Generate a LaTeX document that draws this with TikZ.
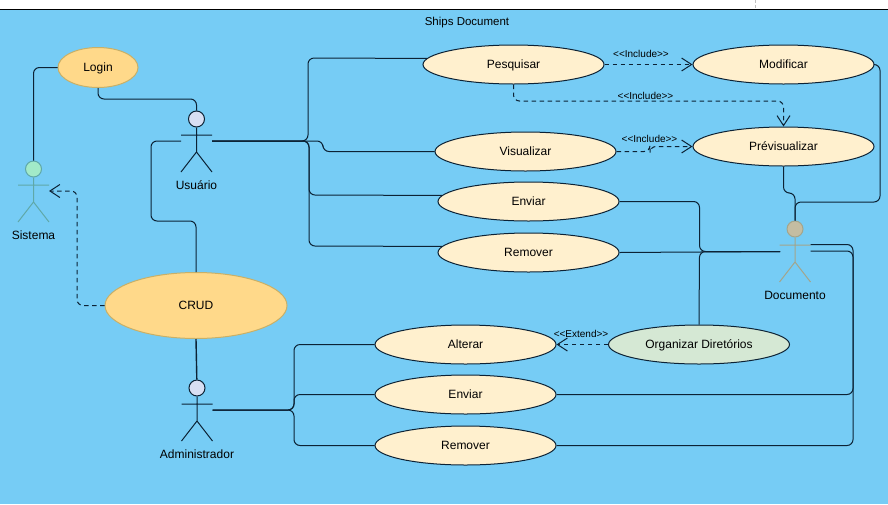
\documentclass[tikz,border=0pt]{standalone}
\usepackage{fontspec}
\setmainfont{Liberation Sans}
\usetikzlibrary{shapes.geometric}
\usetikzlibrary{arrows.meta}

\definecolor{skyback}{HTML}{76CCF5}
\definecolor{lineblue}{HTML}{0C2235}
\definecolor{casefill}{HTML}{FFF0CE}
\definecolor{goldfill}{HTML}{FFD98A}
\definecolor{goldline}{HTML}{C8B068}
\definecolor{greenfill}{HTML}{D5E8D4}
\definecolor{headblue}{HTML}{D8DFF3}
\definecolor{headmint}{HTML}{A2EAC8}
\definecolor{linemint}{HTML}{5FA8A8}
\definecolor{headsand}{HTML}{C4BDA2}
\definecolor{linesand}{HTML}{A3A58C}

\tikzset{
	usecase/.style={draw=lineblue, ellipse, fill=casefill, line width=1pt, minimum width=181pt, minimum height=39pt, inner sep=0pt, text height=8.6pt, text depth=0pt, font=\fontsize{12}{12}\selectfont},
	goldcase/.style={usecase, draw=goldline, fill=goldfill},
	assoc/.style={draw=lineblue, line width=1pt, rounded corners=6pt},
	dep/.style={assoc, dash pattern=on 4.5pt off 3.5pt, -{Straight Barb[length=10pt,width=13pt]}},
	stereo/.style={inner sep=0pt, font=\fontsize{10}{10}\selectfont},
	pics/actor/.style n args={3}{code={
		\node[circle, draw=#2, fill=#1, line width=1pt, minimum size=16pt, inner sep=0pt] (-head) at (0,0) {};
		\draw[#2, line width=1pt] (-head) -- (0,33) (-15.5,16) -- (15.5,16) (-15.5,53) -- (0,33) -- (15.5,53);
		\coordinate (-left) at (-15.5,22);
		\coordinate (-right) at (15.5,22);
		\node[inner sep=0pt, font=\fontsize{12}{12}\selectfont] (-label) at (0,66) {#3};
	}}
}

\begin{document}
\begin{tikzpicture}[x=1pt, y=-1pt]
	\useasboundingbox (0,0) rectangle (888,504);

	\fill[white] (0,0) rectangle (888,504);
	\fill[skyback] (0,9.5) rectangle (888,504);
	\draw[black, line width=0.8pt] (0,9.5) -- (888,9.5);
	\draw[gray!50, line width=0.7pt, dash pattern=on 3pt off 1.5pt] (755,0) -- (755,9);

	\node[inner sep=0pt, font=\fontsize{11.5}{12}\selectfont] (title) at (467,23) {Ships Document};

	% use cases
	\node[goldcase, minimum width=80pt, minimum height=40pt] (login) at (98,67.5) {Login};
	\node[goldcase, minimum width=182pt, minimum height=66pt] (crud) at (196,305.5) {CRUD};

	\node[usecase] (pesquisar) at (513.5,64.5) {Pesquisar};
	\node[usecase] (modificar) at (783.5,64.5) {Modificar};
	\node[usecase] (previsualizar) at (783.5,146.5) {Prévisualizar};
	\node[usecase] (visualizar) at (525.5,151.5) {Visualizar};
	\node[usecase] (enviar) at (528.5,201.5) {Enviar};
	\node[usecase] (remover) at (528.5,252.5) {Remover};
	\node[usecase] (alterar) at (465.5,344.5) {Alterar};
	\node[usecase] (enviarb) at (465.5,394.5) {Enviar};
	\node[usecase] (removerb) at (465.5,445.5) {Remover};
	\node[usecase, fill=greenfill] (organizar) at (699,344.5) {Organizar Diretórios};

	% actors
	\pic (usuario) at (196.5,119) {actor={headblue}{lineblue}{Usuário}};
	\pic (sistema) at (33.5,169) {actor={headmint}{linemint}{Sistema}};
	\pic (admin) at (197,388) {actor={headblue}{lineblue}{Administrador}};
	\pic (documento) at (795,229) {actor={headsand}{linesand}{Documento}};

	\coordinate (sistemadep) at (49,191);
	\coordinate (docjoin) at (780,251.5);

	% associations
	\draw[assoc] (login.west) -- (33.5,67.5) -- (sistema-head);
	\draw[assoc] (login.south) -- (98,99) -- (196.5,99) -- (usuario-head);

	\draw[assoc] (usuario-right) -- (308,141) -- (308,58) -- (pesquisar.176);
	\draw[assoc] (usuario-right) -- (323,141) -- (323,151.5) -- (visualizar.west);
	\draw[assoc] (usuario-right) -- (309,141) -- (309,195) -- (enviar.176);
	\draw[assoc] (usuario-right) -- (309,141) -- (309,246) -- (remover.176);
	\draw[assoc] (usuario-left) -- (151,141) -- (151,221) -- (196,221) -- (crud.north);

	\draw[assoc, line width=1.4pt] (crud.south) -- (admin-head);
	\draw[assoc] (admin-right) -- (294,410) -- (294,344.5) -- (alterar.west);
	\draw[assoc] (admin-right) -- (294,410) -- (294,394.5) -- (enviarb.west);
	\draw[assoc] (admin-right) -- (294,410) -- (294,445.5) -- (removerb.west);

	\draw[assoc] (modificar.east) -- (880,64.5) -- (880,202) -- (795,202) -- (documento-head);
	\draw[assoc] (previsualizar.south) -- (783.5,193) -- (795,193) -- (documento-head);
	\draw[assoc] (enviar.east) -- (699.5,201.5) -- (699.5,251.5) -- (docjoin);
	\draw[assoc] (remover.east) -- (docjoin);
	\draw[assoc] (organizar.north) -- (699.5,251.5) -- (docjoin);
	\draw[assoc] (documento-right) ++(0,-6.5) -- (853,244.5) -- (853,394.5) -- (enviarb.east);
	\draw[assoc] (documento-right) -- (853,251) -- (853,445.5) -- (removerb.east);

	% includes and extends
	\draw[dep] (crud.west) -- (77,305.5) -- (77,191) -- (sistemadep);
	\draw[dep] (pesquisar.east) -- (modificar.west);
	\draw[dep] (pesquisar.south) -- (513.5,101) -- (783.5,101) -- (previsualizar.north);
	\draw[dep] (visualizar.east) -- (650,151.5) -- (650,146.5) -- (previsualizar.west);
	\draw[dep] (organizar.west) -- (alterar.east);

	\node[stereo] (incmod) at (641,54) {<{}<Include>{}>};
	\node[stereo] (incprev) at (645.5,96) {<{}<Include>{}>};
	\node[stereo] (incvis) at (649.5,139) {<{}<Include>{}>};
	\node[stereo] (extalt) at (581,334) {<{}<Extend>{}>};

\end{tikzpicture}
\end{document}
